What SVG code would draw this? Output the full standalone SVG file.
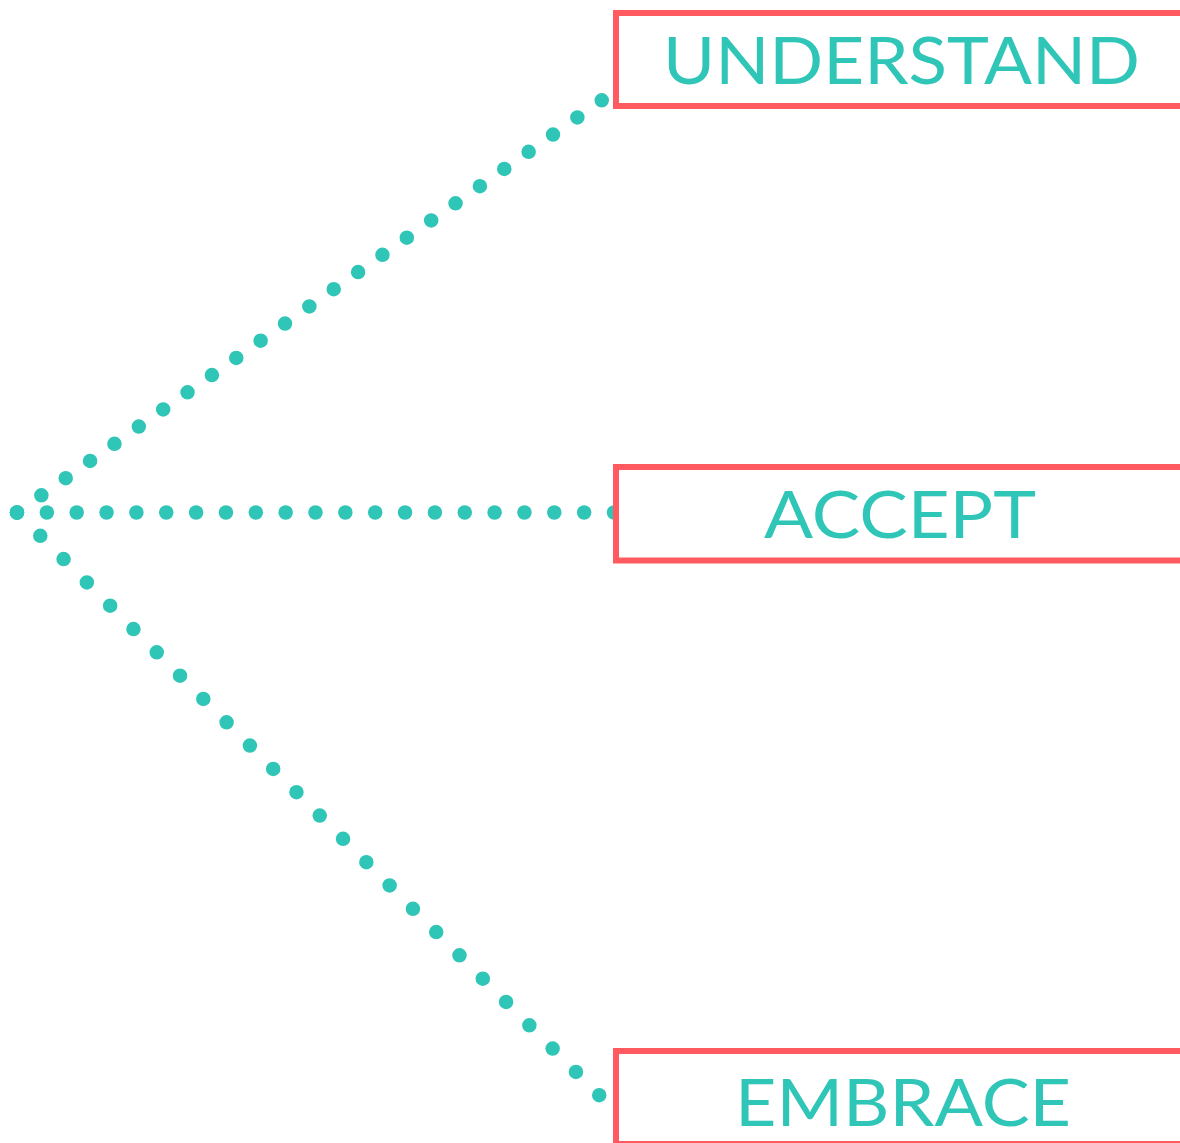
<svg xmlns="http://www.w3.org/2000/svg" width="1180" height="1143" viewBox="0 0 1180 1143">
<style>
.dots{fill:none;stroke:#2FC5B7;stroke-width:14.5;stroke-linecap:round}
.box{fill:#FFFFFF;stroke:#FF5A60;stroke-width:6}
.lbl{font-family:Lato,"Open Sans","Liberation Sans",sans-serif;font-size:65px;fill:#2FC5B7;letter-spacing:0}
</style>
<rect x="0" y="0" width="1180" height="1143" fill="#FFFFFF"/>
<g id="connectors">
<line class="dots" x1="17" y1="512.5" x2="602.8" y2="99.5" stroke-dasharray="0 29.81"/>
<line class="dots" x1="17" y1="512.5" x2="615" y2="512.5" stroke-dasharray="0 29.85"/>
<line class="dots" x1="17" y1="512.5" x2="599.7" y2="1095.7" stroke-dasharray="0 32.95"/>
</g>
<g id="node-understand">
<rect class="box" x="616" y="13" width="600" height="93"/>
<text class="lbl" x="663" y="84" textLength="477" lengthAdjust="spacingAndGlyphs">UNDERSTAND</text>
</g>
<g id="node-accept">
<rect class="box" x="616" y="467" width="600" height="93.5"/>
<text class="lbl" x="764" y="538" textLength="272" lengthAdjust="spacingAndGlyphs">ACCEPT</text>
</g>
<g id="node-embrace">
<rect class="box" x="616" y="1051" width="600" height="93"/>
<text class="lbl" x="735" y="1126" textLength="336" lengthAdjust="spacingAndGlyphs">EMBRACE</text>
</g>
</svg>
